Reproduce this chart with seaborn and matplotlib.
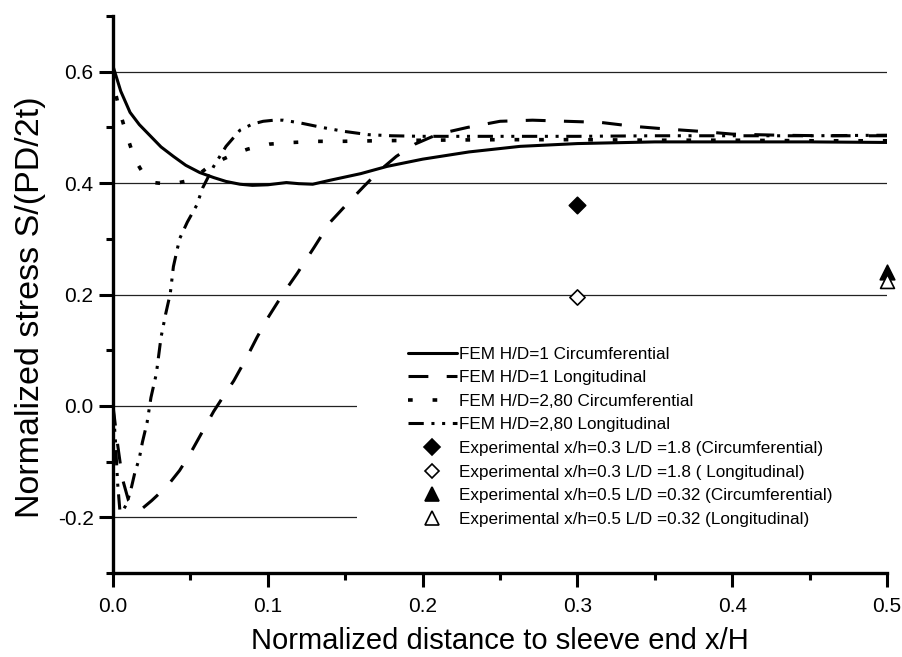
import matplotlib
matplotlib.use("Agg")
import matplotlib.pyplot as plt
import seaborn as sns
import numpy as np
import pandas as pd
from matplotlib.lines import Line2D
from matplotlib.patches import Rectangle
from matplotlib.ticker import MultipleLocator

# ---- data ----
x_hd1_circ = [0, 0.005, 0.011, 0.017, 0.024, 0.031, 0.039, 0.047, 0.056, 0.065, 0.073, 0.082,
              0.09, 0.1, 0.112, 0.12, 0.129, 0.14, 0.15, 0.16, 0.177, 0.2, 0.23, 0.263, 0.3,
              0.35, 0.4, 0.45, 0.5]
y_hd1_circ = [0.61, 0.565, 0.527, 0.505, 0.485, 0.465, 0.448, 0.432, 0.419, 0.41, 0.403, 0.398,
              0.396, 0.397, 0.401, 0.399, 0.398, 0.405, 0.411, 0.417, 0.43, 0.443, 0.456, 0.466,
              0.471, 0.474, 0.474, 0.474, 0.473]

x_hd1_long = [0, 0.003, 0.006, 0.01, 0.015, 0.019, 0.025, 0.03, 0.037, 0.043, 0.05, 0.058, 0.065,
              0.072, 0.078, 0.086, 0.093, 0.1, 0.11, 0.119, 0.13, 0.14, 0.151, 0.162, 0.172, 0.183,
              0.195, 0.21, 0.229, 0.25, 0.271, 0.293, 0.315, 0.336, 0.358, 0.379, 0.4, 0.43, 0.46, 0.5]
y_hd1_long = [0.0, -0.07, -0.13, -0.17, -0.185, -0.184, -0.17, -0.157, -0.137, -0.116, -0.085,
              -0.045, -0.01, 0.02, 0.045, 0.085, 0.123, 0.158, 0.202, 0.238, 0.285, 0.329, 0.362,
              0.394, 0.422, 0.448, 0.47, 0.488, 0.5, 0.511, 0.513, 0.511, 0.509, 0.502, 0.497,
              0.493, 0.488, 0.486, 0.485, 0.485]

x_hd28_circ = [0, 0.001, 0.0045, 0.009, 0.014, 0.02, 0.026, 0.033, 0.041, 0.048, 0.055, 0.062,
               0.071, 0.079, 0.087, 0.094, 0.101, 0.116, 0.132, 0.147, 0.17, 0.2, 0.25, 0.3,
               0.35, 0.4, 0.45, 0.5]
y_hd28_circ = [0.6, 0.569, 0.527, 0.485, 0.443, 0.415, 0.401, 0.399, 0.4, 0.404, 0.415, 0.43,
               0.443, 0.453, 0.461, 0.466, 0.47, 0.473, 0.475, 0.475, 0.476, 0.477, 0.478, 0.478,
               0.477, 0.477, 0.476, 0.476]

x_hd28_long = [0, 0.0015, 0.003, 0.0045, 0.007, 0.009, 0.012, 0.014, 0.017, 0.019, 0.022, 0.0245,
               0.028, 0.031, 0.034, 0.037, 0.039, 0.043, 0.048, 0.054, 0.058, 0.065, 0.073, 0.082,
               0.09, 0.097, 0.104, 0.11, 0.121, 0.135, 0.149, 0.165, 0.18, 0.2, 0.25, 0.3, 0.35,
               0.4, 0.45, 0.5]
y_hd28_long = [0.0, -0.06, -0.14, -0.19, -0.185, -0.175, -0.145, -0.121, -0.094, -0.065, -0.03,
               0.015, 0.058, 0.123, 0.165, 0.202, 0.25, 0.3, 0.33, 0.36, 0.392, 0.43, 0.466,
               0.495, 0.506, 0.511, 0.513, 0.513, 0.508, 0.5, 0.493, 0.487, 0.485, 0.484, 0.484,
               0.484, 0.485, 0.485, 0.485, 0.486]

exp_x = [0.3, 0.3, 0.5, 0.5]
exp_y = [0.36, 0.195, 0.24, 0.225]

line_labels = ["FEM H/D=1 Circumferential", "FEM H/D=1 Longitudinal",
               "FEM H/D=2,80 Circumferential", "FEM H/D=2,80 Longitudinal"]
exp_labels = ["Experimental x/h=0.3 L/D =1.8 (Circumferential)",
              "Experimental x/h=0.3 L/D =1.8 ( Longitudinal)",
              "Experimental x/h=0.5 L/D =0.32 (Circumferential)",
              "Experimental x/h=0.5 L/D =0.32 (Longitudinal)"]

y_ticks = [-0.2, 0.0, 0.2, 0.4, 0.6]
x_ticks = [0.0, 0.1, 0.2, 0.3, 0.4, 0.5]

# ---- style ----
sns.set_style("white")
plt.rcParams['font.family'] = ['Liberation Sans', 'DejaVu Sans']
plt.rcParams['text.color'] = 'black'
plt.rcParams['axes.labelcolor'] = 'black'
plt.rcParams['xtick.color'] = 'black'
plt.rcParams['ytick.color'] = 'black'

fig = plt.figure(figsize=(9.02, 6.57), dpi=100)
ax = fig.add_axes([0.1253, 0.1279, 0.9834 - 0.1253, 0.9756 - 0.1279])

LW = 2.2
styles = [
    "-",
    (0, (6.5, 6)),
    (0, (1.3, 5.5)),
    (0, (5, 2.5, 1, 2.5, 1, 2.5)),
]
lws = [LW, LW, 2.6, LW]
series = [(x_hd1_circ, y_hd1_circ), (x_hd1_long, y_hd1_long),
          (x_hd28_circ, y_hd28_circ), (x_hd28_long, y_hd28_long)]

handles = []
for (xs, ys), lab, ls, lw in zip(series, line_labels, styles, lws):
    df = pd.DataFrame({"x": xs, "y": ys})
    sns.lineplot(data=df, x="x", y="y", ax=ax, color="black", lw=lw,
                 linestyle=ls, zorder=3, legend=False)
    handles.append(Line2D([], [], color="black", lw=lw, linestyle=ls))

markers = ["D", "D", "^", "^"]
fills = ["black", "white", "black", "white"]
msizes = [70, 60, 110, 100]
for xv, yv, m, fc, s in zip(exp_x, exp_y, markers, fills, msizes):
    sns.scatterplot(x=[xv], y=[yv], ax=ax, marker=m, s=s, color=fc,
                    edgecolor="black", linewidth=1.2, zorder=4, legend=False)
for coll in ax.collections:
    coll.set_clip_on(False)
for m, fc, s in zip(markers, fills, msizes):
    handles.append(Line2D([], [], linestyle="none", marker=m, markersize=np.sqrt(s) * 0.95,
                          markerfacecolor=fc, markeredgecolor="black", markeredgewidth=1.2))

ax.set_xlim(0, 0.5)
ax.set_ylim(-0.3, 0.7)
ax.xaxis.set_minor_locator(MultipleLocator(0.05))
ax.yaxis.set_minor_locator(MultipleLocator(0.1))
ax.set_yticks(y_ticks)
ax.set_yticklabels([f"{v:.1f}" for v in y_ticks])
ax.set_xticks(x_ticks)
ax.set_xticklabels([f"{v:.1f}" for v in x_ticks])

ax.yaxis.grid(True, which="major", color="#222222", lw=0.9)
ax.xaxis.grid(False)
ax.set_axisbelow(True)

for side in ["top", "right"]:
    ax.spines[side].set_visible(False)
for side in ["left", "bottom"]:
    ax.spines[side].set_linewidth(2.4)
    ax.spines[side].set_color("black")

ax.tick_params(axis="both", which="major", direction="out", length=10, width=2.2,
               color="black", labelsize=15, labelcolor="black")
ax.tick_params(axis="both", which="minor", direction="out", length=5, width=2.2, color="black")
ax.tick_params(axis="x", which="major", pad=7)
ax.tick_params(axis="y", which="major", pad=4)
ax.tick_params(left=True, bottom=True, which="both")

ax.set_xlabel("Normalized distance to sleeve end x/H", fontsize=21, labelpad=8, color="black")
ax.set_ylabel("Normalized stress S/(PD/2t)", fontsize=24.5, color="black")
ax.yaxis.set_label_coords(-0.087, 0.4776)

# white legend background covering grid lines
ax.add_patch(Rectangle((0.315, 0.0), 0.685, 0.43, transform=ax.transAxes,
                       facecolor="white", edgecolor="none", zorder=2))

leg = ax.legend(handles, line_labels + exp_labels, loc="upper left",
                bbox_to_anchor=(0.381, 0.406), frameon=False, fontsize=12.3,
                handlelength=2.85, handletextpad=0.12, labelspacing=0.5,
                borderpad=0, borderaxespad=0, labelcolor="black")
leg.set_zorder(5)

fig.savefig("out.png", dpi=100)
